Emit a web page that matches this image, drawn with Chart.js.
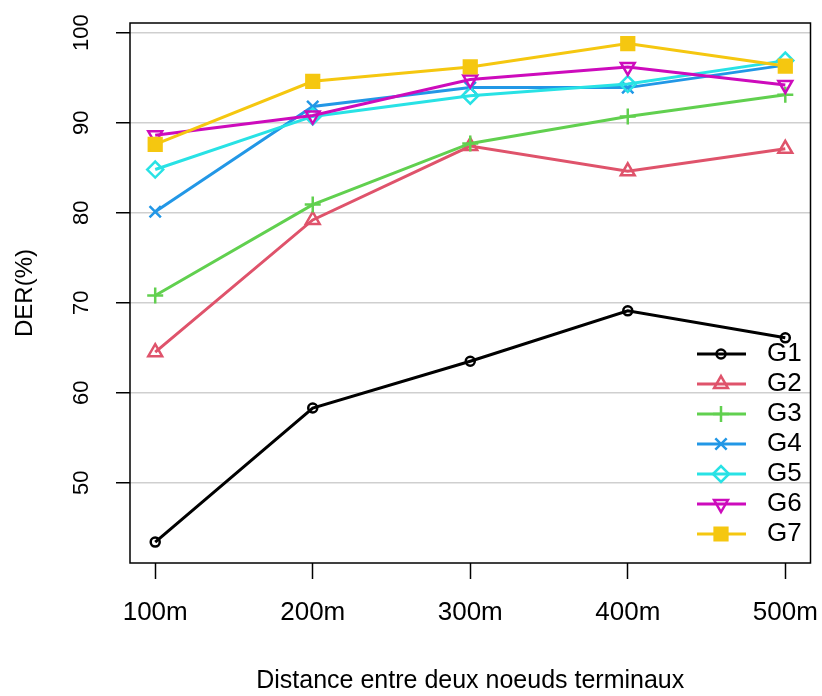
<!DOCTYPE html>
<html>
<head>
<meta charset="utf-8">
<script src="https://cdn.jsdelivr.net/npm/chart.js@4/dist/chart.umd.min.js"></script>
<style>
    html, body { margin: 0; padding: 0; background: #ffffff; }
    #wrap { width: 822px; height: 696px; }
</style>
</head>
<body>
<div id="wrap"><canvas id="chart" width="822" height="696"></canvas></div>
<script>
// Data
const xLabels = ['100m', '200m', '300m', '400m', '500m'];
const yTicks = [50, 60, 70, 80, 90, 100];
const seriesNames = ['G1', 'G2', 'G3', 'G4', 'G5', 'G6', 'G7'];
const g1 = [43.4, 58.3, 63.5, 69.1, 66.1];
const g2 = [64.5, 79.2, 87.4, 84.6, 87.1];
const g3 = [70.8, 80.9, 87.7, 90.7, 93.1];
const g4 = [80.1, 91.8, 93.9, 93.9, 96.4];
const g5 = [84.8, 90.7, 93.0, 94.3, 96.9];
const g6 = [88.6, 90.8, 94.8, 96.2, 94.2];
const g7 = [87.6, 94.6, 96.2, 98.8, 96.3];
const seriesValues = [g1, g2, g3, g4, g5, g6, g7];

// Styles (R default palette look)
const COLORS = ['#000000', '#DF536B', '#61D04F', '#2297E6', '#28E2E5', '#CD0BBC', '#F5C710'];
const MARKERS = [
    { style: 'circle', radius: 4.5, rotation: 0, fill: false },
    { style: 'triangle', radius: 8, rotation: 0, fill: false },
    { style: 'cross', radius: 8, rotation: 0, fill: false },
    { style: 'crossRot', radius: 8, rotation: 0, fill: false },
    { style: 'rectRot', radius: 8, rotation: 0, fill: false },
    { style: 'triangle', radius: 8, rotation: 180, fill: false },
    { style: 'rect', radius: 9, rotation: 0, fill: true }
];
const FONT = "'Liberation Sans', Arial, sans-serif";

const datasets = seriesValues.map((vals, i) => ({
    label: seriesNames[i],
    data: vals.map((v, j) => ({ x: j + 1, y: v })),
    borderColor: COLORS[i],
    backgroundColor: MARKERS[i].fill ? COLORS[i] : 'rgba(0,0,0,0)',
    borderWidth: 3,
    pointStyle: MARKERS[i].style,
    pointRadius: MARKERS[i].radius,
    pointRotation: MARKERS[i].rotation,
    pointBorderWidth: 2.5,
    pointBorderColor: COLORS[i],
    pointBackgroundColor: MARKERS[i].fill ? COLORS[i] : 'rgba(0,0,0,0)',
    tension: 0,
    order: seriesValues.length - i
}));

// plot frame like R's box()
const boxPlugin = {
    id: 'box',
    afterDraw(chart) {
        const a = chart.chartArea;
        const ctx = chart.ctx;
        ctx.save();
        ctx.strokeStyle = '#000';
        ctx.lineWidth = 1.5;
        ctx.strokeRect(a.left, a.top, a.right - a.left, a.bottom - a.top);
        ctx.restore();
    }
};

// legend inside the plot, bottom right, no frame
const legendPlugin = {
    id: 'rlegend',
    afterDatasetsDraw(chart) {
        const ctx = chart.ctx;
        const x0 = 697, x1 = 746, xm = 721, xt = 767;
        const yStart = 354, step = 30;
        ctx.save();
        chart.data.datasets.forEach((ds, i) => {
            const y = yStart + i * step;
            ctx.strokeStyle = ds.borderColor;
            ctx.lineWidth = 3;
            ctx.beginPath();
            ctx.moveTo(x0, y);
            ctx.lineTo(x1, y);
            ctx.stroke();
            ctx.fillStyle = ds.pointBackgroundColor;
            ctx.lineWidth = 2.5;
            Chart.helpers.drawPoint(ctx, {
                pointStyle: ds.pointStyle,
                radius: ds.pointRadius,
                rotation: ds.pointRotation,
                borderWidth: 2.5
            }, xm, y);
            ctx.fillStyle = '#000';
            ctx.font = '26px ' + FONT;
            ctx.textBaseline = 'middle';
            ctx.textAlign = 'left';
            ctx.fillText(ds.label, xt, y);
        });
        ctx.restore();
    }
};

new Chart(document.getElementById('chart'), {
    type: 'line',
    data: { datasets },
    options: {
        responsive: false,
        animation: false,
        events: [],
        layout: { padding: { top: 23, right: 10, left: 0, bottom: 0 } },
        plugins: {
            legend: { display: false },
            tooltip: { enabled: false }
        },
        scales: {
            x: {
                type: 'linear',
                min: 0.84,
                max: 5.16,
                afterBuildTicks: (scale) => { scale.ticks = xLabels.map((_, i) => ({ value: i + 1 })); },
                afterFit: (scale) => {
                    scale.height = 133;
                    scale.paddingLeft = 0;
                    scale.paddingRight = 0;
                },
                border: { display: false },
                grid: {
                    drawOnChartArea: false,
                    drawTicks: true,
                    tickLength: 16,
                    tickColor: '#000',
                    tickWidth: 1.5
                },
                ticks: {
                    padding: 18,
                    color: '#000',
                    font: { family: FONT, size: 26 },
                    maxRotation: 0,
                    callback: (v) => xLabels[Math.round(v) - 1]
                },
                title: {
                    display: true,
                    text: 'Distance entre deux noeuds terminaux',
                    color: '#000',
                    font: { family: FONT, size: 25 },
                    padding: { top: 0, bottom: 0 }
                }
            },
            y: {
                min: 41.08,
                max: 101.08,
                afterBuildTicks: (scale) => { scale.ticks = yTicks.map(v => ({ value: v })); },
                afterFit: (scale) => {
                    scale.width = 130;
                    scale.paddingTop = 0;
                    scale.paddingBottom = 0;
                },
                border: { display: false },
                grid: {
                    color: '#cfcfcf',
                    lineWidth: 1.5,
                    drawTicks: true,
                    tickLength: 14,
                    tickColor: '#000',
                    tickWidth: 1.5
                },
                ticks: {
                    padding: 16,
                    color: '#000',
                    crossAlign: 'center',
                    minRotation: 90,
                    maxRotation: 90,
                    font: { family: FONT, size: 22 },
                    callback: (v) => String(v)
                },
                title: {
                    display: true,
                    text: 'DER(%)',
                    color: '#000',
                    font: { family: FONT, size: 24 },
                    padding: { top: 11, bottom: 0 }
                }
            }
        }
    },
    plugins: [boxPlugin, legendPlugin]
});
</script>
</body>
</html>
